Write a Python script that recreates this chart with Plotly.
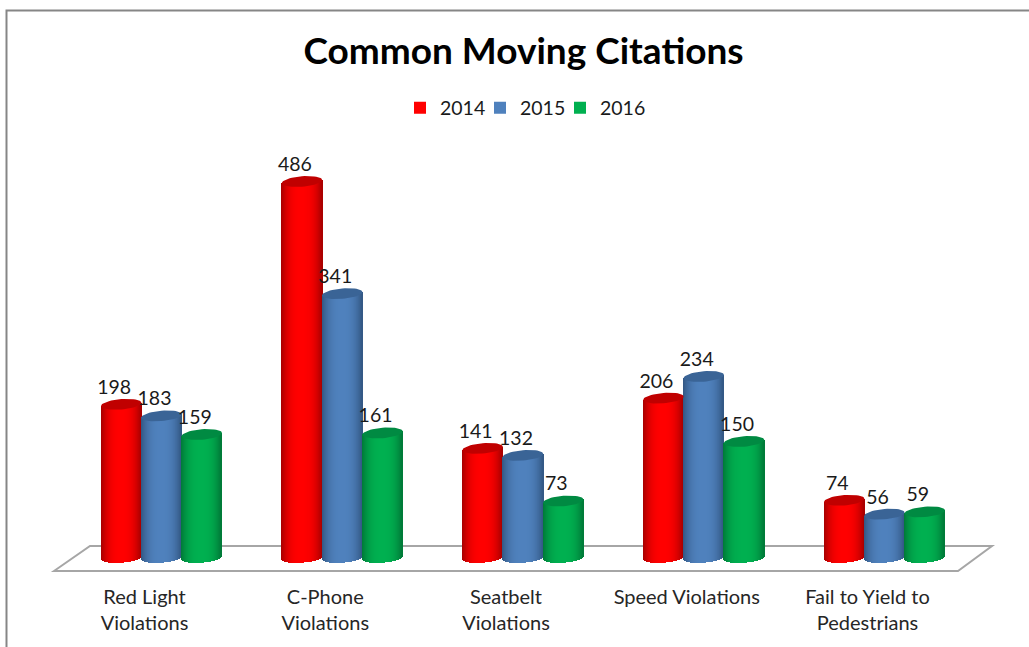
import math
import plotly.graph_objects as go

categories = ["Red Light<br>Violations", "C-Phone<br>Violations", "Seatbelt<br>Violations",
              "Speed Violations", "Fail to Yield to<br>Pedestrians"]
years = ["2014", "2015", "2016"]
v2014 = [198, 486, 141, 206, 74]
v2015 = [183, 341, 132, 234, 56]
v2016 = [159, 161, 73, 150, 59]
series = [v2014, v2015, v2016]
base_rgb = [(255, 0, 0), (79, 129, 189), (0, 176, 80)]
edge_rgb = [(165, 0, 0), (50, 86, 130), (0, 120, 55)]
cap_rgb = ["#c00000", "#3a6496", "#008a42"]

W, H = 1029, 647
PL, PR, PT, PB = 40, 1010, 140, 572          # plot area in pixels
UX, X0PX = 180.75, 161.5                     # pixels per category, px of first category
UY, Y0PX = 0.7737, 557.5                     # pixels per citation, px of zero


def dx(px):
    return (px - X0PX) / UX


def dy(py):
    return (Y0PX - py) / UY


bar_w = 40.3 / UX
rx = bar_w / 2
ry = 5.2 / UY
tilt = 1.6 / UY
N = 40
centers = [-bar_w, 0.0, bar_w]


def shade(rgb_a, rgb_e, t):
    k = abs(t) ** 2.6
    c = [round(a + (e - a) * k) for a, e in zip(rgb_a, rgb_e)]
    return f"rgb({c[0]},{c[1]},{c[2]})"


fig = go.Figure()

for s, vals in enumerate(series):
    xs, ys, bases, cols = [], [], [], []
    cx, cy = [], []
    for i, v in enumerate(vals):
        cen = i + centers[s]
        for k in range(N):
            t = (k + 0.5) / N * 2 - 1
            bot = -ry * math.sqrt(1 - t * t) + tilt * t
            xs.append(cen + t * rx)
            bases.append(bot)
            ys.append(v + tilt * t - bot)
            cols.append(shade(base_rgb[s], edge_rgb[s], t))
        for a in range(0, 49):
            th = a / 48 * 2 * math.pi
            cx.append(cen + rx * math.cos(th))
            cy.append(v + ry * math.sin(th) + tilt * math.cos(th))
        cx.append(None)
        cy.append(None)
    fig.add_trace(go.Bar(x=xs, y=ys, base=bases, width=bar_w / N,
                         marker=dict(color=cols, line=dict(width=0)),
                         showlegend=False, hoverinfo="skip"))
    fig.add_trace(go.Scatter(x=cx, y=cy, mode="lines", fill="toself", fillcolor=cap_rgb[s],
                             line=dict(width=0, color=cap_rgb[s]),
                             showlegend=False, hoverinfo="skip"))

legend_ids = ["legend", "legend2", "legend3"]
for s, vals in enumerate(series):
    fig.add_trace(go.Bar(x=[None], y=[None], name=years[s], legend=legend_ids[s],
                         marker=dict(color=f"rgb{base_rgb[s]}", line=dict(width=0))))

for s, vals in enumerate(series):
    fig.add_trace(go.Scatter(x=[i + centers[s] - 7 / UX for i in range(len(vals))],
                             y=[v + 20 for v in vals],
                             text=[str(v) for v in vals], mode="text",
                             textposition="middle center",
                             textfont=dict(family="Lato", size=19.5, color="#1a1a1a"),
                             showlegend=False, hoverinfo="skip", cliponaxis=False))

floor = [(54, 571), (90, 546), (992, 546), (958, 571)]
floor_path = "M" + " L".join(f"{dx(a):.4f},{dy(b):.3f}" for a, b in floor) + " Z"


def legend_at(px):
    return dict(orientation="h", x=(px - PL) / (PR - PL), xanchor="left",
                y=(PB - 108) / (PB - PT), yanchor="middle", itemwidth=30,
                font=dict(family="Lato", size=19.5, color="#1a1a1a"), bgcolor="rgba(0,0,0,0)")


fig.update_layout(
    width=W, height=H,
    margin=dict(l=PL, r=W - PR, t=PT, b=H - PB, pad=0, autoexpand=False),
    paper_bgcolor="white", plot_bgcolor="white",
    barmode="overlay", bargap=0,
    title=dict(text="<b>Common Moving Citations</b>", x=523.5 / W, xref="container", xanchor="center",
               y=1 - 51 / H, yref="container", yanchor="middle",
               font=dict(family="Lato", size=37, color="black")),
    legend=legend_at(400), legend2=legend_at(480), legend3=legend_at(560),
    xaxis=dict(range=[dx(PL), dx(PR)], tickmode="array",
               tickvals=[i - 17 / UX for i in range(len(categories))],
               ticktext=categories, showgrid=False, zeroline=False, showline=False, ticks="",
               ticklabelstandoff=11,
               tickfont=dict(family="Lato", size=20, color="#262626")),
    yaxis=dict(range=[dy(PB), dy(PT)], visible=False),
    shapes=[
        dict(type="path", path=floor_path, xref="x", yref="y", layer="below",
             fillcolor="white", line=dict(color="#a6a6a6", width=2)),
        dict(type="path", xref="paper", yref="paper", layer="below",
             path=(f"M{(6.5 - PL) / (PR - PL):.5f},{(PB - 648) / (PB - PT):.5f} "
                   f"L{(6.5 - PL) / (PR - PL):.5f},{(PB - 10.5) / (PB - PT):.5f} "
                   f"L{(1030 - PL) / (PR - PL):.5f},{(PB - 10.5) / (PB - PT):.5f}"),
             line=dict(color="#868686", width=2)),
    ],
)

fig.write_html("out.html", config={"displayModeBar": False},
               post_script="document.body.style.margin='0';")
